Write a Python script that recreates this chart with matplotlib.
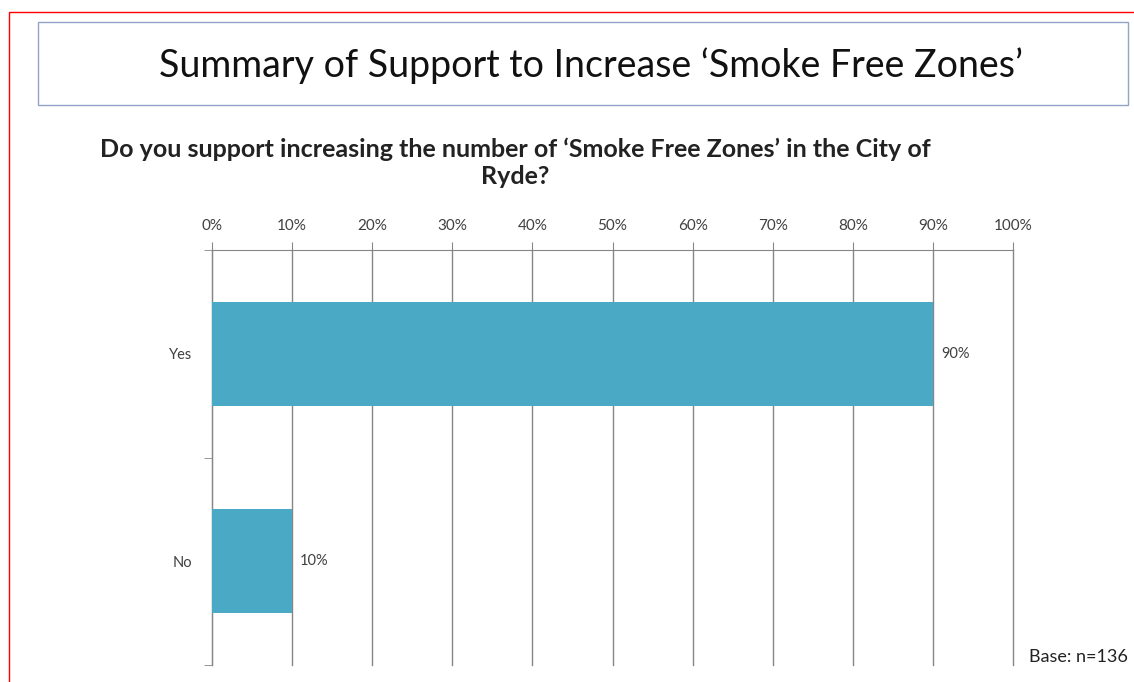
import matplotlib
matplotlib.use("Agg")
import matplotlib.pyplot as plt
from matplotlib.patches import Rectangle
from matplotlib.ticker import FuncFormatter

categories = ["Yes", "No"]
support_pct = [90, 10]
x_ticks = [0, 10, 20, 30, 40, 50, 60, 70, 80, 90, 100]

title = "Summary of Support to Increase \u2018Smoke Free Zones\u2019"
question = ("Do you support increasing the number of \u2018Smoke Free Zones\u2019 in the City of\nRyde?")
base_note = "Base: n=136"

plt.rcParams["font.family"] = ["Lato", "DejaVu Sans"]

W, H = 1134, 682
fig = plt.figure(figsize=(W / 100, H / 100), dpi=100)
fig.patch.set_facecolor("white")

# Slide frame (red) and title box
fig.patches.append(Rectangle((9 / W, -0.1), 1.2, 1 - 12 / H + 0.1, transform=fig.transFigure,
                             fill=False, edgecolor="#ff0000", linewidth=1.0))
fig.patches.append(Rectangle((38 / W, 1 - 105 / H), (1128 - 38) / W, (105 - 22) / H,
                             transform=fig.transFigure, fill=False,
                             edgecolor="#8fa4c6", linewidth=1.0))
fig.text(591 / W, 1 - 66 / H, title, ha="center", va="center", fontsize=27, color="#111111")
fig.text(515 / W, 1 - 163 / H, question, ha="center", va="center", fontsize=18,
         fontweight="bold", color="#222222", linespacing=1.2)
fig.text(1128 / W, 1 - 657 / H, base_note, ha="right", va="center", fontsize=13, color="#222222")

ax = fig.add_axes([212 / W, 1 - 665 / H, (1013 - 212) / W, (665 - 250) / H])
y = list(range(len(categories)))
ax.barh(y, support_pct, height=0.5, color="#4aaac5", zorder=3)
ax.set_ylim(len(categories) - 0.5, -0.5)
ax.set_xlim(0, 100)

for yi, v in zip(y, support_pct):
    ax.text(v + 1.0, yi, f"{v}%", va="center", ha="left", fontsize=10.5, color="#404040")

ax.xaxis.tick_top()
ax.set_xticks(x_ticks)
ax.xaxis.set_major_formatter(FuncFormatter(lambda v, p: f"{v:.0f}%"))
ax.tick_params(axis="x", length=6, color="#868686", labelsize=11, labelcolor="#404040", pad=6)
ax.grid(axis="x", color="#868686", linewidth=1.0, zorder=0)
for gl in ax.get_xgridlines():
    gl.set_clip_on(False)

ax.set_yticks(y)
ax.set_yticklabels(categories)
ax.set_yticks([-0.5, 0.5, 1.5], minor=True)
ax.tick_params(axis="y", which="major", length=0, labelsize=10.5, labelcolor="#404040", pad=14)
ax.tick_params(axis="y", which="minor", length=6, color="#868686")

for side in ["right", "bottom"]:
    ax.spines[side].set_visible(False)
ax.spines["top"].set_color("#868686")
ax.spines["left"].set_color("#868686")

fig.savefig("out.png", dpi=100, facecolor="white")
